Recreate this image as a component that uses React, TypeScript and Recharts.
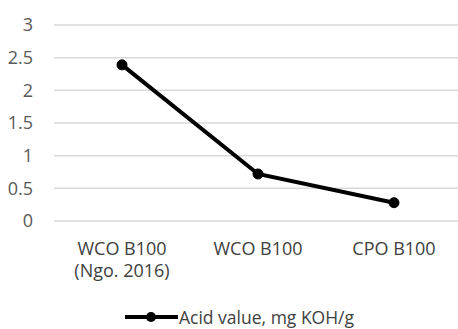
import { LineChart, Line, XAxis, YAxis, CartesianGrid, Legend } from "recharts";

const categories = ["WCO B100\n(Ngo. 2016)", "WCO B100", "CPO B100"];
const acidValues = [2.39, 0.72, 0.28];
const yTicks = [0, 0.5, 1, 1.5, 2, 2.5, 3];
const seriesName = "Acid value, mg KOH/g";

const chartData = categories.map((c, i) => ({ name: c, acid: acidValues[i] }));

const FONT = "'Open Sans', sans-serif";

function CategoryTick({ x, y, payload }: any) {
  const lines = String(payload.value).split("\n");
  return (
    <text x={x} y={y} textAnchor="middle" fill="#404040" fontSize={18} fontFamily={FONT}>
      {lines.map((l, i) => (
        <tspan key={i} x={x} dy={i === 0 ? 34 : 22}>
          {l}
        </tspan>
      ))}
    </text>
  );
}

function LegendBox() {
  return (
    <div style={{ display: "flex", alignItems: "center", height: 24, fontFamily: FONT, fontSize: 17.5, color: "#404040" }}>
      <svg width={53} height={14} style={{ marginRight: 1 }}>
        <line x1={0} y1={7} x2={53} y2={7} stroke="#000" strokeWidth={4} />
        <circle cx={26} cy={7} r={5} fill="#000" />
      </svg>
      <span>{seriesName}</span>
    </div>
  );
}

export default function App() {
  return (
    <div style={{ position: "absolute", left: 0, top: 0, width: 458, height: 329, overflow: "hidden", background: "#fff" }}>
      <LineChart width={462} height={329} data={chartData} margin={{ top: 25, right: 0, left: 0, bottom: 0 }} style={{ fontFamily: FONT }}>
        <CartesianGrid vertical={false} stroke="#d9d9d9" strokeWidth={1.5} />
        <XAxis
          dataKey="name"
          axisLine={false}
          tickLine={false}
          tickSize={0}
          tickMargin={0}
          height={84}
          tick={<CategoryTick />}
          interval={0}
          padding={{ left: 68, right: 68 }}
        />
        <YAxis
          width={54}
          domain={[0, 3]}
          ticks={yTicks}
          axisLine={false}
          tickLine={false}
          tickSize={6}
          tickMargin={15}
          tick={{ fill: "#595959", fontSize: 18 }}
        />
        <Legend verticalAlign="bottom" content={<LegendBox />} wrapperStyle={{ left: 125, width: 270, height: 24 }} />
        <Line
          type="linear"
          dataKey="acid"
          name={seriesName}
          stroke="#000"
          strokeWidth={4}
          dot={{ r: 5, fill: "#000", stroke: "#000", strokeWidth: 1 }}
          isAnimationActive={false}
        />
      </LineChart>
    </div>
  );
}
